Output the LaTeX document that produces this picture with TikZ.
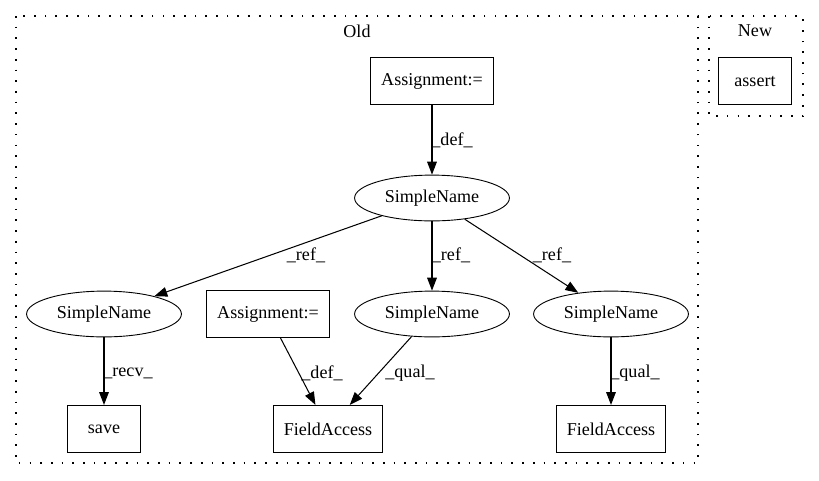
\documentclass[tikz,border=0pt]{standalone}
\usepackage{fontspec}
\setmainfont{Liberation Serif}
\usepackage{tikz}
\usetikzlibrary{positioning}
\usetikzlibrary{shapes.geometric}
\usetikzlibrary{arrows.meta}

\begin{document}
\begin{tikzpicture}[
    x=0.775pt,
    y=-0.775pt,
    font=\fontsize{14}{16}\selectfont,
    astBox/.style={rectangle,
    draw,
    line width=0.8pt,
    inner xsep=8pt,
    minimum width=56pt,
    minimum height=36.5pt},
    astEllipse/.style={ellipse,
    draw,
    line width=0.7pt,
    inner sep=0pt,
    minimum width=120pt,
    minimum height=35.5pt},
    astEdge/.style={line width=0.8pt, -{Triangle[length=10pt, width=7.5pt]}},
    edgeLabel/.style={inner sep=0pt},
    clusterBox/.style={draw, line width=1pt, dash pattern=on 1.3pt off 7pt}
    ]
    \useasboundingbox (0,0) rectangle (819,480);
    \draw[clusterBox] (16,16) rectangle (698,463);
    \draw[clusterBox] (709,16) rectangle (803,116);
    \node (old) at (357,31) {Old};
    \node (new) at (755,31) {New};
    \node[astBox] (1) at (432,81) {Assignment:=};
    \node[astEllipse] (2) at (432,198) {SimpleName};
    \draw[astEdge] (1) -- (2) node[edgeLabel] at (452,140) {\_def\_};
    \node[astEllipse] (3) at (104,314) {SimpleName};
    \draw[astEdge] (2) -- (3) node[edgeLabel] at (306,255) {\_ref\_};
    \node[astBox] (4) at (268,314) {Assignment:=};
    \node[astEllipse] (5) at (432,314) {SimpleName};
    \draw[astEdge] (2) -- (5) node[edgeLabel] at (451,255) {\_ref\_};
    \node[astEllipse] (6) at (611,314) {SimpleName};
    \draw[astEdge] (2) -- (6) node[edgeLabel] at (552,255) {\_ref\_};
    \node[astBox] (7) at (104,429) {save};
    \draw[astEdge] (3) -- (7) node[edgeLabel] at (128,373) {\_recv\_};
    \node[astBox] (8) at (328,429) {FieldAccess};
    \draw[astEdge] (4) -- (8) node[edgeLabel] at (322,373) {\_def\_};
    \draw[astEdge] (5) -- (8) node[edgeLabel] at (410,373) {\_qual\_};
    \node[astBox] (9) at (611,429) {FieldAccess};
    \draw[astEdge] (6) -- (9) node[edgeLabel] at (635,373) {\_qual\_};
    \node[astBox] (10) at (755,81) {assert};
  \end{tikzpicture}
\end{document}
